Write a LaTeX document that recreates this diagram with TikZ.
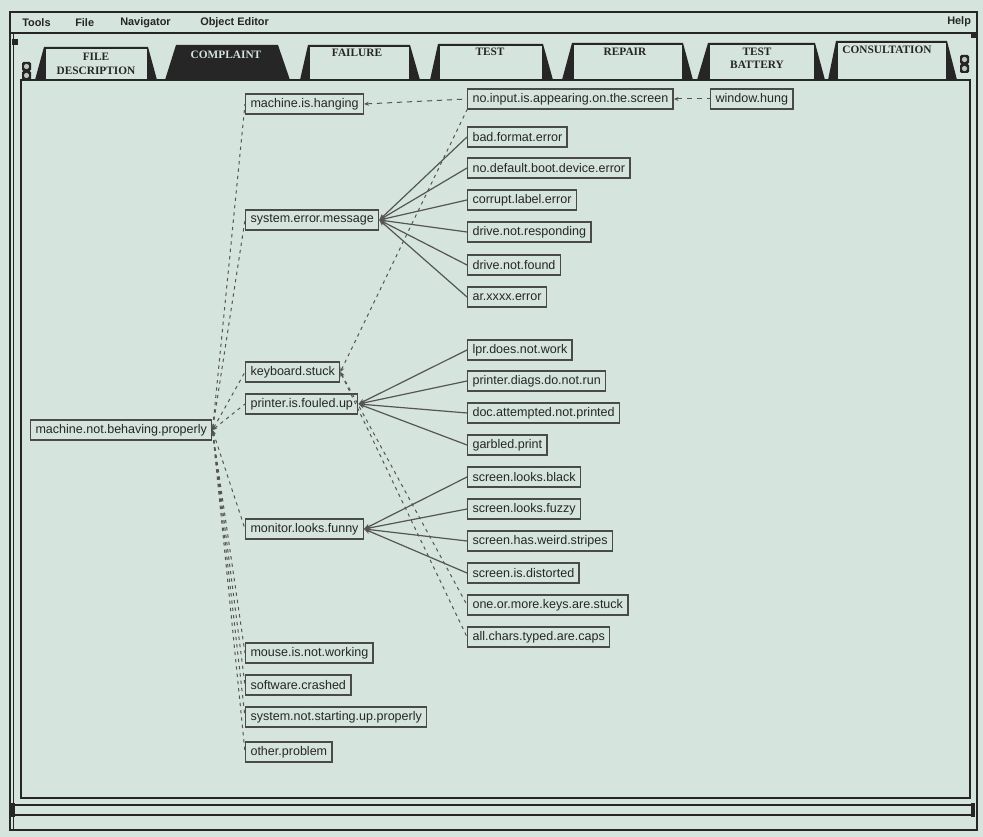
\documentclass[tikz,border=0pt]{standalone}
\usepackage{fontspec}
\setmainfont{Liberation Serif}
\newfontfamily\uifont{Liberation Sans}
\usetikzlibrary{arrows.meta}
\definecolor{screenbg}{HTML}{D5E4DD}
\definecolor{ink}{HTML}{262626}
\definecolor{wire}{HTML}{555555}
\definecolor{edge}{HTML}{4A4A4A}
\begin{document}
\begin{tikzpicture}[x=0.75pt,y=-0.75pt,
  item/.style={draw=edge, line width=1.1pt, fill=screenbg, anchor=west,
    inner xsep=3.6pt, inner ysep=0pt, minimum height=15pt, text=ink,
    font=\uifont\fontsize{9.4}{10}\selectfont},
  link/.style={draw=wire, line width=0.9pt, {Stealth[length=4.5pt,width=4pt]}-},
  hint/.style={draw=wire, line width=0.75pt, dash pattern=on 2.5pt off 3pt,
    {Stealth[length=3.5pt,width=3pt]}-},
  longhint/.style={hint, dash pattern=on 4pt off 3.5pt},
  tablabel/.style={font=\bfseries\fontsize{8.5}{10}\selectfont, text=ink,
    align=center, inner sep=0pt},
  menuitem/.style={font=\uifont\bfseries\fontsize{8.2}{9}\selectfont, text=ink,
    anchor=west, inner sep=0pt},
  frame/.style={draw=ink, line width=1pt}
]
% canvas
\fill[screenbg] (0,0) rectangle (983,837);
\useasboundingbox (0,0) rectangle (983,837);

% window outline and menu bar
\draw[frame] (10,12) rectangle (977,830);
\draw[frame, line width=0.6pt] (13,33) -- (13,830);
\draw[frame] (10,33) -- (977,33);
\fill[ink] (12,39) rectangle (18,45);
\fill[ink] (971,32) rectangle (977,38);
\node[menuitem] (mTools) at (22,23) {Tools};
\node[menuitem] (mFile) at (75,23) {File};
\node[menuitem] (mNav) at (120,23) {Navigator};
\node[menuitem] (mObj) at (200,23) {Object Editor};
\node[menuitem] (mHelp) at (947,22) {Help};

% working panel
\draw[frame] (21,80) rectangle (970,798);

% horizontal scroll strip
\draw[frame] (13,805) -- (974,805);
\draw[frame] (13,815) -- (974,815);
\fill[ink] (11,803) rectangle (15,817);
\fill[ink] (971,803) rectangle (975,817);

% page-turn widgets
\foreach \wx/\wy in {22/62, 22/71, 960/55, 960/64} {
  \fill[ink, rounded corners=1pt] (\wx,\wy) rectangle (\wx+9,\wy+9);
  \fill[screenbg!70!gray] (\wx+4.5,\wy+4.5) circle (2.6);
}

% tabs: bottom-left / top-left / top-right / bottom-right / top
\foreach \bl/\tl/\tr/\br/\tp in {35/44/148/157/47, 300/308/410/420/45,
    430/438/543/553/44, 562/572/683/693/43, 697/708/815/825/43,
    828/836/947/957/41} {
  \fill[ink] (\bl,80) -- (\tl,\tp) -- (\tr,\tp) -- (\br,80) -- cycle;
  \fill[screenbg] (\tl+1.5,\tp+2.2) rectangle (\tr-1.5,79);
}
% the selected tab
\fill[ink] (165,80) -- (176,45) -- (278,45) -- (290,80) -- cycle;
\draw[frame, line width=1.6pt] (21,80) -- (970,80);

\node[tablabel] (tFile) at (96,64) {FILE\\DESCRIPTION};
\node[tablabel, text=screenbg] (tComplaint) at (226,55) {COMPLAINT};
\node[tablabel] (tFailure) at (357,53) {FAILURE};
\node[tablabel] (tTest) at (490,52) {TEST};
\node[tablabel] (tRepair) at (625,52) {REPAIR};
\node[tablabel] (tBattery) at (757,58) {TEST\\BATTERY};
\node[tablabel] (tConsult) at (887,50) {CONSULTATION};

% complaint tree
\node[item] (mnbp) at (30,430) {machine.not.behaving.properly};

\node[item] (mih)  at (245,104) {machine.is.hanging};
\node[item] (sem)  at (245,220) {system.error.message};
\node[item] (kbd)  at (245,372) {keyboard.stuck};
\node[item] (pfu)  at (245,404) {printer.is.fouled.up};
\node[item] (mlf)  at (245,529) {monitor.looks.funny};
\node[item] (minw) at (245,653) {mouse.is.not.working};
\node[item] (swc)  at (245,685) {software.crashed};
\node[item] (snsp) at (245,717) {system.not.starting.up.properly};
\node[item] (op)   at (245,752) {other.problem};

\node[item] (nia) at (467,99)  {no.input.is.appearing.on.the.screen};
\node[item] (wh)  at (710,99)  {window.hung};
\node[item] (bfe) at (467,137) {bad.format.error};
\node[item] (ndb) at (467,168) {no.default.boot.device.error};
\node[item] (cle) at (467,200) {corrupt.label.error};
\node[item] (dnr) at (467,232) {drive.not.responding};
\node[item] (dnf) at (467,265) {drive.not.found};
\node[item] (axe) at (467,297) {ar.xxxx.error};
\node[item] (lpr) at (467,350) {lpr.does.not.work};
\node[item] (pdr) at (467,381) {printer.diags.do.not.run};
\node[item] (dan) at (467,413) {doc.attempted.not.printed};
\node[item] (gp)  at (467,445) {garbled.print};
\node[item] (slb) at (467,477) {screen.looks.black};
\node[item] (slf) at (467,509) {screen.looks.fuzzy};
\node[item] (shw) at (467,541) {screen.has.weird.stripes};
\node[item] (sid) at (467,573) {screen.is.distorted};
\node[item] (omk) at (467,605) {one.or.more.keys.are.stuck};
\node[item] (act) at (467,637) {all.chars.typed.are.caps};

% solid links: sub-complaints
\foreach \c in {bfe,ndb,cle,dnr,dnf,axe} \draw[link] (sem.east) -- (\c.west);
\foreach \c in {lpr,pdr,dan,gp} \draw[link] (pfu.east) -- (\c.west);
\foreach \c in {slb,slf,shw,sid} \draw[link] (mlf.east) -- (\c.west);

% dashed links: related complaints
\foreach \c in {mih,sem,kbd,pfu,mlf,minw,swc,snsp,op}
  \draw[hint] (mnbp.east) -- (\c.west);
\draw[longhint] (mih.east) -- (nia.west);
\draw[longhint] (nia.east) -- (wh.west);
\draw[hint] (kbd.east) -- (nia.south west);
\draw[hint] (kbd.east) -- (omk.west);
\draw[hint] (kbd.east) -- (act.west);
\end{tikzpicture}
\end{document}
